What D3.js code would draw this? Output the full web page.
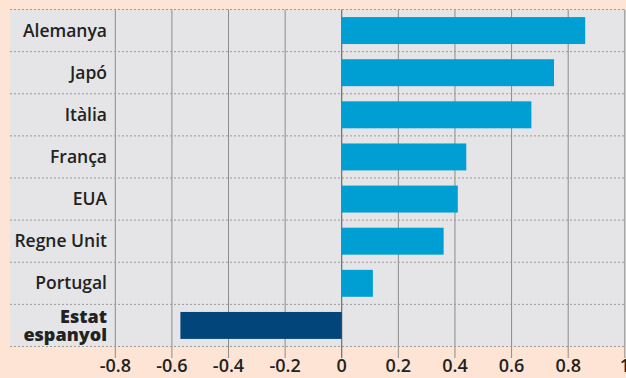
<!DOCTYPE html>
<html>
<head>
<meta charset="utf-8">
<script src="https://cdn.jsdelivr.net/npm/d3@7"></script>
<style>
  body { margin: 0; background: #fde4d4; }
  svg { display: block; }
  .lbl { font-family: "Open Sans", sans-serif; font-weight: 600; fill: #222; }
</style>
</head>
<body>
<svg id="chart" width="626" height="378"></svg>
<script>
// countries, top to bottom
const countries = ["Alemanya", "Japó", "Itàlia", "França", "EUA", "Regne Unit", "Portugal", "Estat espanyol"];
const values = [0.86, 0.75, 0.67, 0.44, 0.41, 0.36, 0.11, -0.57];
const ticks = [-0.8, -0.6, -0.4, -0.2, 0, 0.2, 0.4, 0.6, 0.8, 1];
const tickLabels = ["-0.8", "-0.6", "-0.4", "-0.2", "0", "0.2", "0.4", "0.6", "0.8", "1"];

const svg = d3.select("#chart");

const x = d3.scaleLinear().domain([-0.8, 1]).range([115.3, 624.8]);
const y = d3.scaleBand().domain(countries).range([9.5, 346.5]).paddingInner(0.36).paddingOuter(0.18);
let rowH = 337 / countries.length;

// grey panel
svg.append("rect")
    .attr("x", 10).attr("y", 9.5)
    .attr("width", 616).attr("height", 337)
    .attr("fill", "#e5e5e7");

// vertical gridlines
svg.append("g").selectAll("line")
    .data(ticks)
    .enter().append("line")
    .attr("x1", d => x(d)).attr("x2", d => x(d))
    .attr("y1", 9.5).attr("y2", 358)
    .attr("stroke", d => d == 0 ? "#555" : "#8c8c8c")
    .attr("stroke-width", 1);

// dotted row separators
svg.append("g").selectAll("line")
    .data(d3.range(countries.length + 1))
    .enter().append("line")
    .attr("x1", 10).attr("x2", 626)
    .attr("y1", i => 9.5 + i * rowH).attr("y2", i => 9.5 + i * rowH)
    .attr("stroke", "#9a9a9a")
    .attr("stroke-dasharray", "2,2");

// bars
svg.append("g").selectAll("rect")
    .data(countries)
    .enter().append("rect")
    .attr("x", (d, i) => x(Math.min(0, values[i])))
    .attr("width", (d, i) => Math.abs(x(values[i]) - x(0)))
    .attr("y", d => y(d))
    .attr("height", y.bandwidth())
    .attr("fill", (d, i) => values[i] < 0 ? "#02457a" : "#009fd3");

// category labels
let labels = svg.append("g").selectAll("text")
    .data(countries)
    .enter().append("text")
    .attr("class", "lbl")
    .attr("x", 107)
    .attr("y", d => y(d) + y.bandwidth() / 2 + 6)
    .attr("text-anchor", "end")
    .attr("font-size", 17.5);

labels.filter(d => d != "Estat espanyol").text(d => d);
labels.filter(d => d == "Estat espanyol")
    .style("font-weight", 800)
    .attr("font-size", 18)
    .attr("y", 323)
    .each(function () {
        let t = d3.select(this);
        t.append("tspan").attr("x", 107).text("Estat");
        t.append("tspan").attr("x", 107).attr("dy", 18).text("espanyol");
    });

// x axis tick labels
svg.append("g").selectAll("text")
    .data(ticks)
    .enter().append("text")
    .attr("class", "lbl")
    .attr("x", d => x(d))
    .attr("y", 372)
    .attr("text-anchor", "middle")
    .attr("font-size", 18)
    .text((d, i) => tickLabels[i]);
</script>
</body>
</html>
